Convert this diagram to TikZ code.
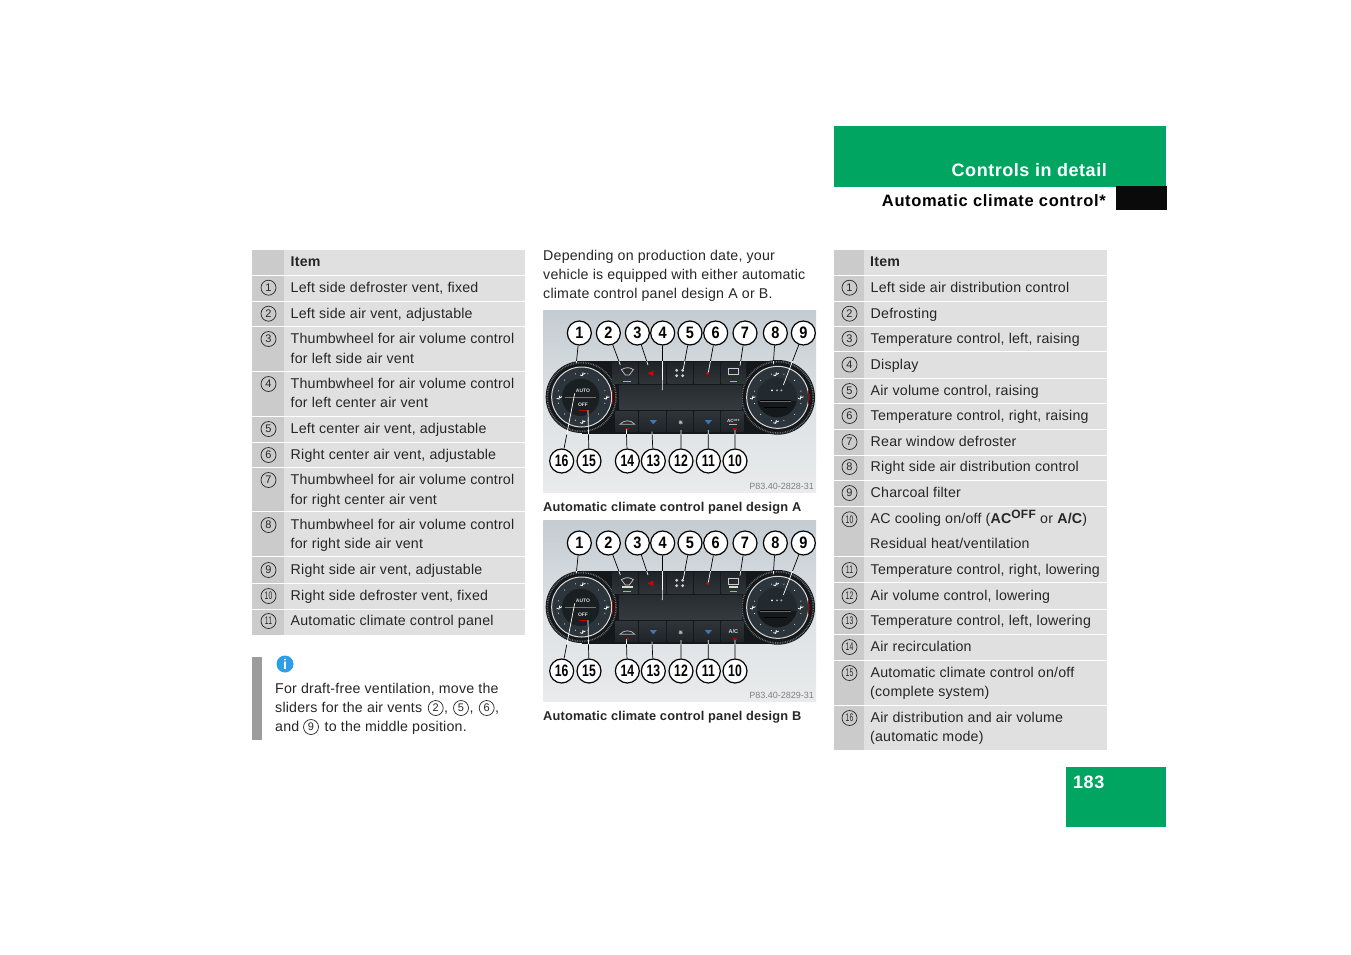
\documentclass[tikz,border=0pt]{standalone}
\usepackage{fontspec}
\setmainfont[LetterSpace=1.45]{Liberation Sans}
\newfontfamily\widea[LetterSpace=3]{Liberation Sans}
\newfontfamily\wideb[LetterSpace=3.9]{Liberation Sans}
\newfontfamily\plainf{Liberation Sans}
\usetikzlibrary{calc}
\definecolor{mbgreen}{HTML}{00A562}
\definecolor{cellbg}{HTML}{E0E0E0}
\definecolor{numbg}{HTML}{CBCBCB}
\definecolor{notebar}{HTML}{9C9C9C}
\definecolor{ink}{HTML}{262626}
\definecolor{infoblue}{HTML}{2E9FE6}
\definecolor{panelink}{HTML}{14181B}
\definecolor{btntop}{HTML}{2E3438}
\definecolor{btnbot}{HTML}{1F2428}
\definecolor{dialbg}{HTML}{2C353B}
\definecolor{knobbg}{HTML}{1A1F22}
\definecolor{lcdtop}{HTML}{272D31}
\definecolor{lcdbot}{HTML}{343A3E}
\definecolor{bgtop}{HTML}{C4CCD2}
\definecolor{bgmid}{HTML}{DCE1E4}
\definecolor{bgbot}{HTML}{E9EBEC}
\definecolor{keyblue}{HTML}{3F77B5}
\newcommand\bodyfont{\fontsize{14.2}{19}\selectfont}
\newcommand\capfont{\fontsize{12.8}{16}\selectfont\bfseries}
\newcommand\numfont{\plainf\fontsize{11}{11}\selectfont}
\newcommand\fitnum[1]{\ifnum#1>9 \scalebox{0.62}[1]{#1}\else #1\fi}
\tikzset{
  celltext/.style={anchor=base west,inner sep=0pt,text=ink,font=\bodyfont},
  numcirc/.style={circle,draw=ink,line width=0.7pt,minimum size=15pt,inner sep=0pt,text=ink,font=\numfont},
  callout/.style={circle,draw=black,fill=white,line width=1.2pt,minimum size=24pt,inner sep=0pt,font=\plainf\fontsize{16.5}{16}\selectfont\bfseries},
  dialmark/.style={draw=white,line width=0.8pt},
}
% prefix, x0, xdiv, x1, top, bottom, number, baseline, text
\newcommand\tblrow[9]{%
  \fill[cellbg] (#2,#5) rectangle (#4,#6);
  \fill[numbg] (#2,#5) rectangle (#3,#6);
  \pgfmathsetmacro\cx{(#2+#3)/2+0.5}
  \pgfmathsetmacro\cy{#8-4}
  \node[numcirc] (#1n#7) at (\cx,\cy) {\fitnum{#7}};
  \pgfmathsetmacro\tx{#3+6.5}
  \pgfmathsetmacro\ty{#8+0.4}
  \node[celltext] (#1t#7) at (\tx,\ty) {#9};
}
\newcommand\knobdots[3]{%
  \foreach \a in {15,45,75,105,135,165,195,225,255,285,315,345}
    \fill[white] ($(#1,#2)+(\a:#3)$) circle (1.6);
}
\newcommand\panelart[3]{% y offset, prefix, bottom of the photo
\begin{scope}[shift={(540,#1)},x=0.33333pt,y=-0.33333pt]
  \shade[top color=bgtop,bottom color=bgbot,middle color=bgmid] (10,15) rectangle (828,#3);
  % housing
  \fill[panelink] (125,168) rectangle (715,386);
  \foreach \c/\cy/\ro/\ri in {125/276/108/90,713/277/112/93}{
    \fill[panelink] (\c,\cy) circle (\ro);
    \draw[white!45!black,line width=1.6pt,dash pattern=on 0.7pt off 1pt] (\c,\cy) circle (\ro-5);
    \fill[dialbg] (\c,\cy) circle (\ri);
    \draw[white!85!black,line width=1pt] (\c,\cy) circle (\ri);
    \knobdots{\c}{\cy}{72}
  }
  \draw[red!65!black,line width=1.1pt] (217,255) -- (217,296);
  \draw[red!65!black,line width=1.1pt] (806,255) -- (806,296);
  % buttons and display
  \foreach \xa/\xb in {218/293,298/378,383/458,463/540,545/618}
    \shade[top color=btnbot,bottom color=btntop] (\xa,172) rectangle (\xb,235);
  \foreach \xa/\xb in {226/293,298/378,383/458,463/540,545/610}
    \shade[top color=btntop,bottom color=btnbot] (\xa,320) rectangle (\xb,380);
  \shade[top color=lcdtop,bottom color=lcdbot] (238,241) rectangle (606,314);
  % knobs
  \fill[knobbg] (122,277) circle (56);
  \draw[black!55,line width=0.5pt] (76,277) -- (168,277);
  \node[text=white!85!black,font=\plainf\fontsize{5}{5}\selectfont\bfseries,inner sep=0pt] (#2auto) at (129,258) {AUTO};
  \node[text=white!85!black,font=\plainf\fontsize{5}{5}\selectfont\bfseries,inner sep=0pt] (#2off) at (129,298) {OFF};
  \fill[red!75!black] (118,316) rectangle (140,319);
  \fill[dialbg!80!black] (711,277) circle (60);
  \begin{scope}
    \clip (711,277) circle (60);
    \fill[knobbg!80!black] (640,287) rectangle (780,340);
  \end{scope}
  \fill[white] (696,256) circle (3);
  \draw[white!70!black,line width=0.5pt] (711,256) circle (2.2) (724,256) circle (2.2);
  \draw[black,line width=0.8pt] (660,285) -- (752,285) (672,306) -- (742,306);
  \draw[white!40!black,line width=0.4pt] (660,288) -- (752,288);
  % dial markings
  \foreach \mx/\my in {128/207,58/277,200/277,128/350,708/207,638/277,782/277,708/350}
    \draw[dialmark] (\mx-8,\my+3) -- (\mx-1,\my+5) -- (\mx+1,\my-5) (\mx+2,\my+1) -- (\mx+8,\my-2);
  % top row icons
  \draw[white!80!black,line width=0.7pt] (244,194) .. controls (258,186) and (268,186) .. (280,194) -- (268,210) -- (256,210) -- cycle;
  \fill[green!70!yellow] (250,227) rectangle (272,230);
  \fill[red!85!black] (322,205) -- (340,197) -- (340,213) -- cycle;
  \foreach \fx/\fy in {410/196,428/196,410/212,428/212}
    \draw[white!85!black,line width=0.8pt] (\fx,\fy) circle (3);
  \fill[red!90!black] (503,205) circle (5);
  \draw[white!80!black,line width=0.7pt] (566,190) rectangle (594,208);
  \fill[green!70!yellow] (570,227) rectangle (592,230);
  % bottom row icons
  \draw[white!70!black,line width=0.8pt] (240,358) .. controls (250,344) and (275,344) .. (284,358) -- cycle;
  \fill[red!70!black] (257,368) rectangle (267,375);
  \fill[keyblue] (329,345) -- (351,345) -- (340,358) -- cycle;
  \draw[white!70!black,line width=0.6pt] (416,352) -- (428,352) (422,346) -- (422,358) (417,347) -- (427,357) (417,357) -- (427,347);
  \fill[keyblue] (494,345) -- (516,345) -- (505,358) -- cycle;
  \fill[red!75!black] (578,368) rectangle (590,374);
  \node[text=gray,font=\plainf\fontsize{9}{9}\selectfont,inner sep=0pt,anchor=base east] (#2code) at (822,#3-10) {\ifnum#1=305 P83.40-2828-31\else P83.40-2829-31\fi};
  \ifnum#1=305
    \node[text=white!85!black,font=\plainf\fontsize{4.5}{4.5}\selectfont\bfseries,inner sep=0pt] (#2ac) at (580,348) {AC\raisebox{1pt}{\fontsize{3}{3}\selectfont OFF}};
    \fill[white!70!black] (568,356) rectangle (592,359);
  \else
    \node[text=white!85!black,font=\plainf\fontsize{5.5}{5.5}\selectfont\bfseries,inner sep=0pt] (#2ac) at (580,350) {A/C};
    \fill[white!85!black] (246,214) rectangle (278,218);
    \fill[white!85!black] (566,214) rectangle (594,218);
  \fi
  % callouts
  \foreach \n/\px in {1/118,2/205,3/292,4/368,5/450,6/527,7/615,8/706,9/790}
    \node[callout] (#2c\n) at (\px,84) {\scalebox{0.88}[1]{\n}};
  \foreach \n/\px in {16/65,15/147,14/262,13/340,12/423,11/505,10/585}
    \node[callout] (#2c\n) at (\px,468) {\scalebox{0.74}[1]{\n}};
  % leaders: dark over the photo background, white over the housing
  \foreach \n/\ex/\ey/\t in {1/109/174/0.93,2/241/180/0.88,3/324/180/0.88,4/367/255/0.49,5/430/192/0.78,6/505/202/0.71,7/600/182/0.86,8/700/178/0.89,9/730/240/0.54,16/104/265/0.39,15/144/315/0.52,14/259/372/0.83,13/336/380/0.91,12/423/375/0.86,11/505/375/0.86,10/585/375/0.86}{
    \coordinate (#2e\n) at (\ex,\ey);
    \coordinate (#2h\n) at ($(#2c\n.center)!\t!(#2e\n)$);
    \draw[line width=0.7pt,draw=white] (#2h\n) -- (#2e\n);
    \draw[line width=0.7pt,draw=black] (#2c\n) -- (#2h\n);
  }
\end{scope}}
\begin{document}
\begin{tikzpicture}[x=1pt,y=-1pt]
\useasboundingbox (0,0) rectangle (1351,954);
\fill[white] (0,0) rectangle (1351,954);
% page furniture
\fill[mbgreen] (834,126) rectangle (1166,187);
\fill[black!96] (1116,186) rectangle (1167,210);
\fill[mbgreen] (1066,767) rectangle (1166,827);
\node[anchor=base east,inner sep=0pt,text=white,font=\widea\fontsize{18}{20}\selectfont\bfseries] (section) at (1107,176) {Controls in detail};
\node[anchor=base east,inner sep=0pt,text=black,font=\wideb\fontsize{16.5}{20}\selectfont\bfseries] (subsection) at (1106,206) {Automatic climate control*};
\node[anchor=base west,inner sep=0pt,text=white,font=\widea\fontsize{18}{20}\selectfont\bfseries] (pageno) at (1073,788) {183};
% left table
\fill[cellbg] (252,250) rectangle (525,274.5);
\fill[numbg] (252,250) rectangle (284,274.5);
\node[celltext,font=\bodyfont\bfseries] (Lhead) at (290.5,266) {Item};
\tblrow{L}{252}{284}{525}{275.5}{300.5}{1}{291.7}{Left side defroster vent, fixed}
\tblrow{L}{252}{284}{525}{301.5}{325.7}{2}{317.7}{Left side air vent, adjustable}
\tblrow{L}{252}{284}{525}{326.7}{370.7}{3}{343}{Thumbwheel for air volume control}
\node[celltext] (L3b) at (290.5,363) {for left side air vent};
\tblrow{L}{252}{284}{525}{371.7}{415.5}{4}{388}{Thumbwheel for air volume control}
\node[celltext] (L4b) at (290.5,407) {for left center air vent};
\tblrow{L}{252}{284}{525}{416.5}{441.5}{5}{433}{Left center air vent, adjustable}
\tblrow{L}{252}{284}{525}{442.5}{466.9}{6}{459}{Right center air vent, adjustable}
\tblrow{L}{252}{284}{525}{467.9}{511.3}{7}{484}{Thumbwheel for air volume control}
\node[celltext] (L7b) at (290.5,504) {for right center air vent};
\tblrow{L}{252}{284}{525}{512.3}{556.2}{8}{529}{Thumbwheel for air volume control}
\node[celltext] (L8b) at (290.5,548) {for right side air vent};
\tblrow{L}{252}{284}{525}{557.2}{582.8}{9}{574}{Right side air vent, adjustable}
\tblrow{L}{252}{284}{525}{583.8}{608.8}{10}{600}{Right side defroster vent, fixed}
\tblrow{L}{252}{284}{525}{609.8}{635}{11}{625}{Automatic climate control panel}
% note
\fill[notebar] (252,657) rectangle (262,740);
\node[circle,fill=infoblue,minimum size=17pt,inner sep=0pt,text=white,font=\plainf\fontsize{14}{14}\selectfont\bfseries] (info) at (285,664) {i};
\node[celltext] (note1) at (275,693.2) {For draft-free ventilation, move the};
\node[celltext] (note2) at (275,712.3) {sliders for the air vents};
\node[numcirc] (noteA) at (435.7,708) {2};
\node[celltext] (noteAc) at (444,712.3) {,};
\node[numcirc] (noteB) at (461,708) {5};
\node[celltext] (noteBc) at (469.5,712.3) {,};
\node[numcirc] (noteC) at (486.7,708) {6};
\node[celltext] (noteCc) at (495,712.3) {,};
\node[celltext] (note3) at (275,731.3) {and};
\node[numcirc] (noteD) at (311,727) {9};
\node[celltext] (note3b) at (324.5,731.3) {to the middle position.};
% middle column
\node[celltext] (intro1) at (543,260) {Depending on production date, your};
\node[celltext] (intro2) at (543,279) {vehicle is equipped with either automatic};
\node[celltext] (intro3) at (543,298) {climate control panel design A or B.};
\panelart{305}{a}{563}
\node[celltext,font=\capfont] (capA) at (543,511) {Automatic climate control panel design A};
\panelart{515}{b}{560}
\node[celltext,font=\capfont] (capB) at (543,720) {Automatic climate control panel design B};
% right table
\fill[cellbg] (834,250) rectangle (1107,274.5);
\fill[numbg] (834,250) rectangle (864,274.5);
\node[celltext,font=\bodyfont\bfseries] (Rhead) at (870,266) {Item};
\tblrow{R}{834}{864}{1107}{275.5}{300.5}{1}{291.7}{Left side air distribution control}
\tblrow{R}{834}{864}{1107}{301.5}{325.5}{2}{317.7}{Defrosting}
\tblrow{R}{834}{864}{1107}{326.5}{351.2}{3}{342.7}{Temperature control, left, raising}
\tblrow{R}{834}{864}{1107}{352.2}{377.8}{4}{368.6}{Display}
\tblrow{R}{834}{864}{1107}{378.8}{402.8}{5}{395}{Air volume control, raising}
\tblrow{R}{834}{864}{1107}{403.8}{428.5}{6}{420}{Temperature control, right, raising}
\tblrow{R}{834}{864}{1107}{429.5}{454.5}{7}{446}{Rear window defroster}
\tblrow{R}{834}{864}{1107}{455.5}{479.5}{8}{471}{Right side air distribution control}
\tblrow{R}{834}{864}{1107}{480.5}{505.5}{9}{497}{Charcoal filter}
\tblrow{R}{834}{864}{1107}{506.5}{556.2}{10}{523.3}{AC cooling on/off (\textbf{AC}\raisebox{5pt}{\textbf{\fontsize{12}{12}\selectfont OFF}} or \textbf{A/C})}
\node[celltext] (R10b) at (870,548.5) {Residual heat/ventilation};
\tblrow{R}{834}{864}{1107}{557.2}{582.2}{11}{574}{Temperature control, right, lowering}
\tblrow{R}{834}{864}{1107}{583.2}{608.5}{12}{600}{Air volume control, lowering}
\tblrow{R}{834}{864}{1107}{609.5}{633.5}{13}{625}{Temperature control, left, lowering}
\tblrow{R}{834}{864}{1107}{634.5}{659.5}{14}{651}{Air recirculation}
\tblrow{R}{834}{864}{1107}{660.5}{704.5}{15}{677}{Automatic climate control on/off}
\node[celltext] (R15b) at (870,696) {(complete system)};
\tblrow{R}{834}{864}{1107}{705.5}{750}{16}{722}{Air distribution and air volume}
\node[celltext] (R16b) at (870,741.3) {(automatic mode)};
\end{tikzpicture}
\end{document}
